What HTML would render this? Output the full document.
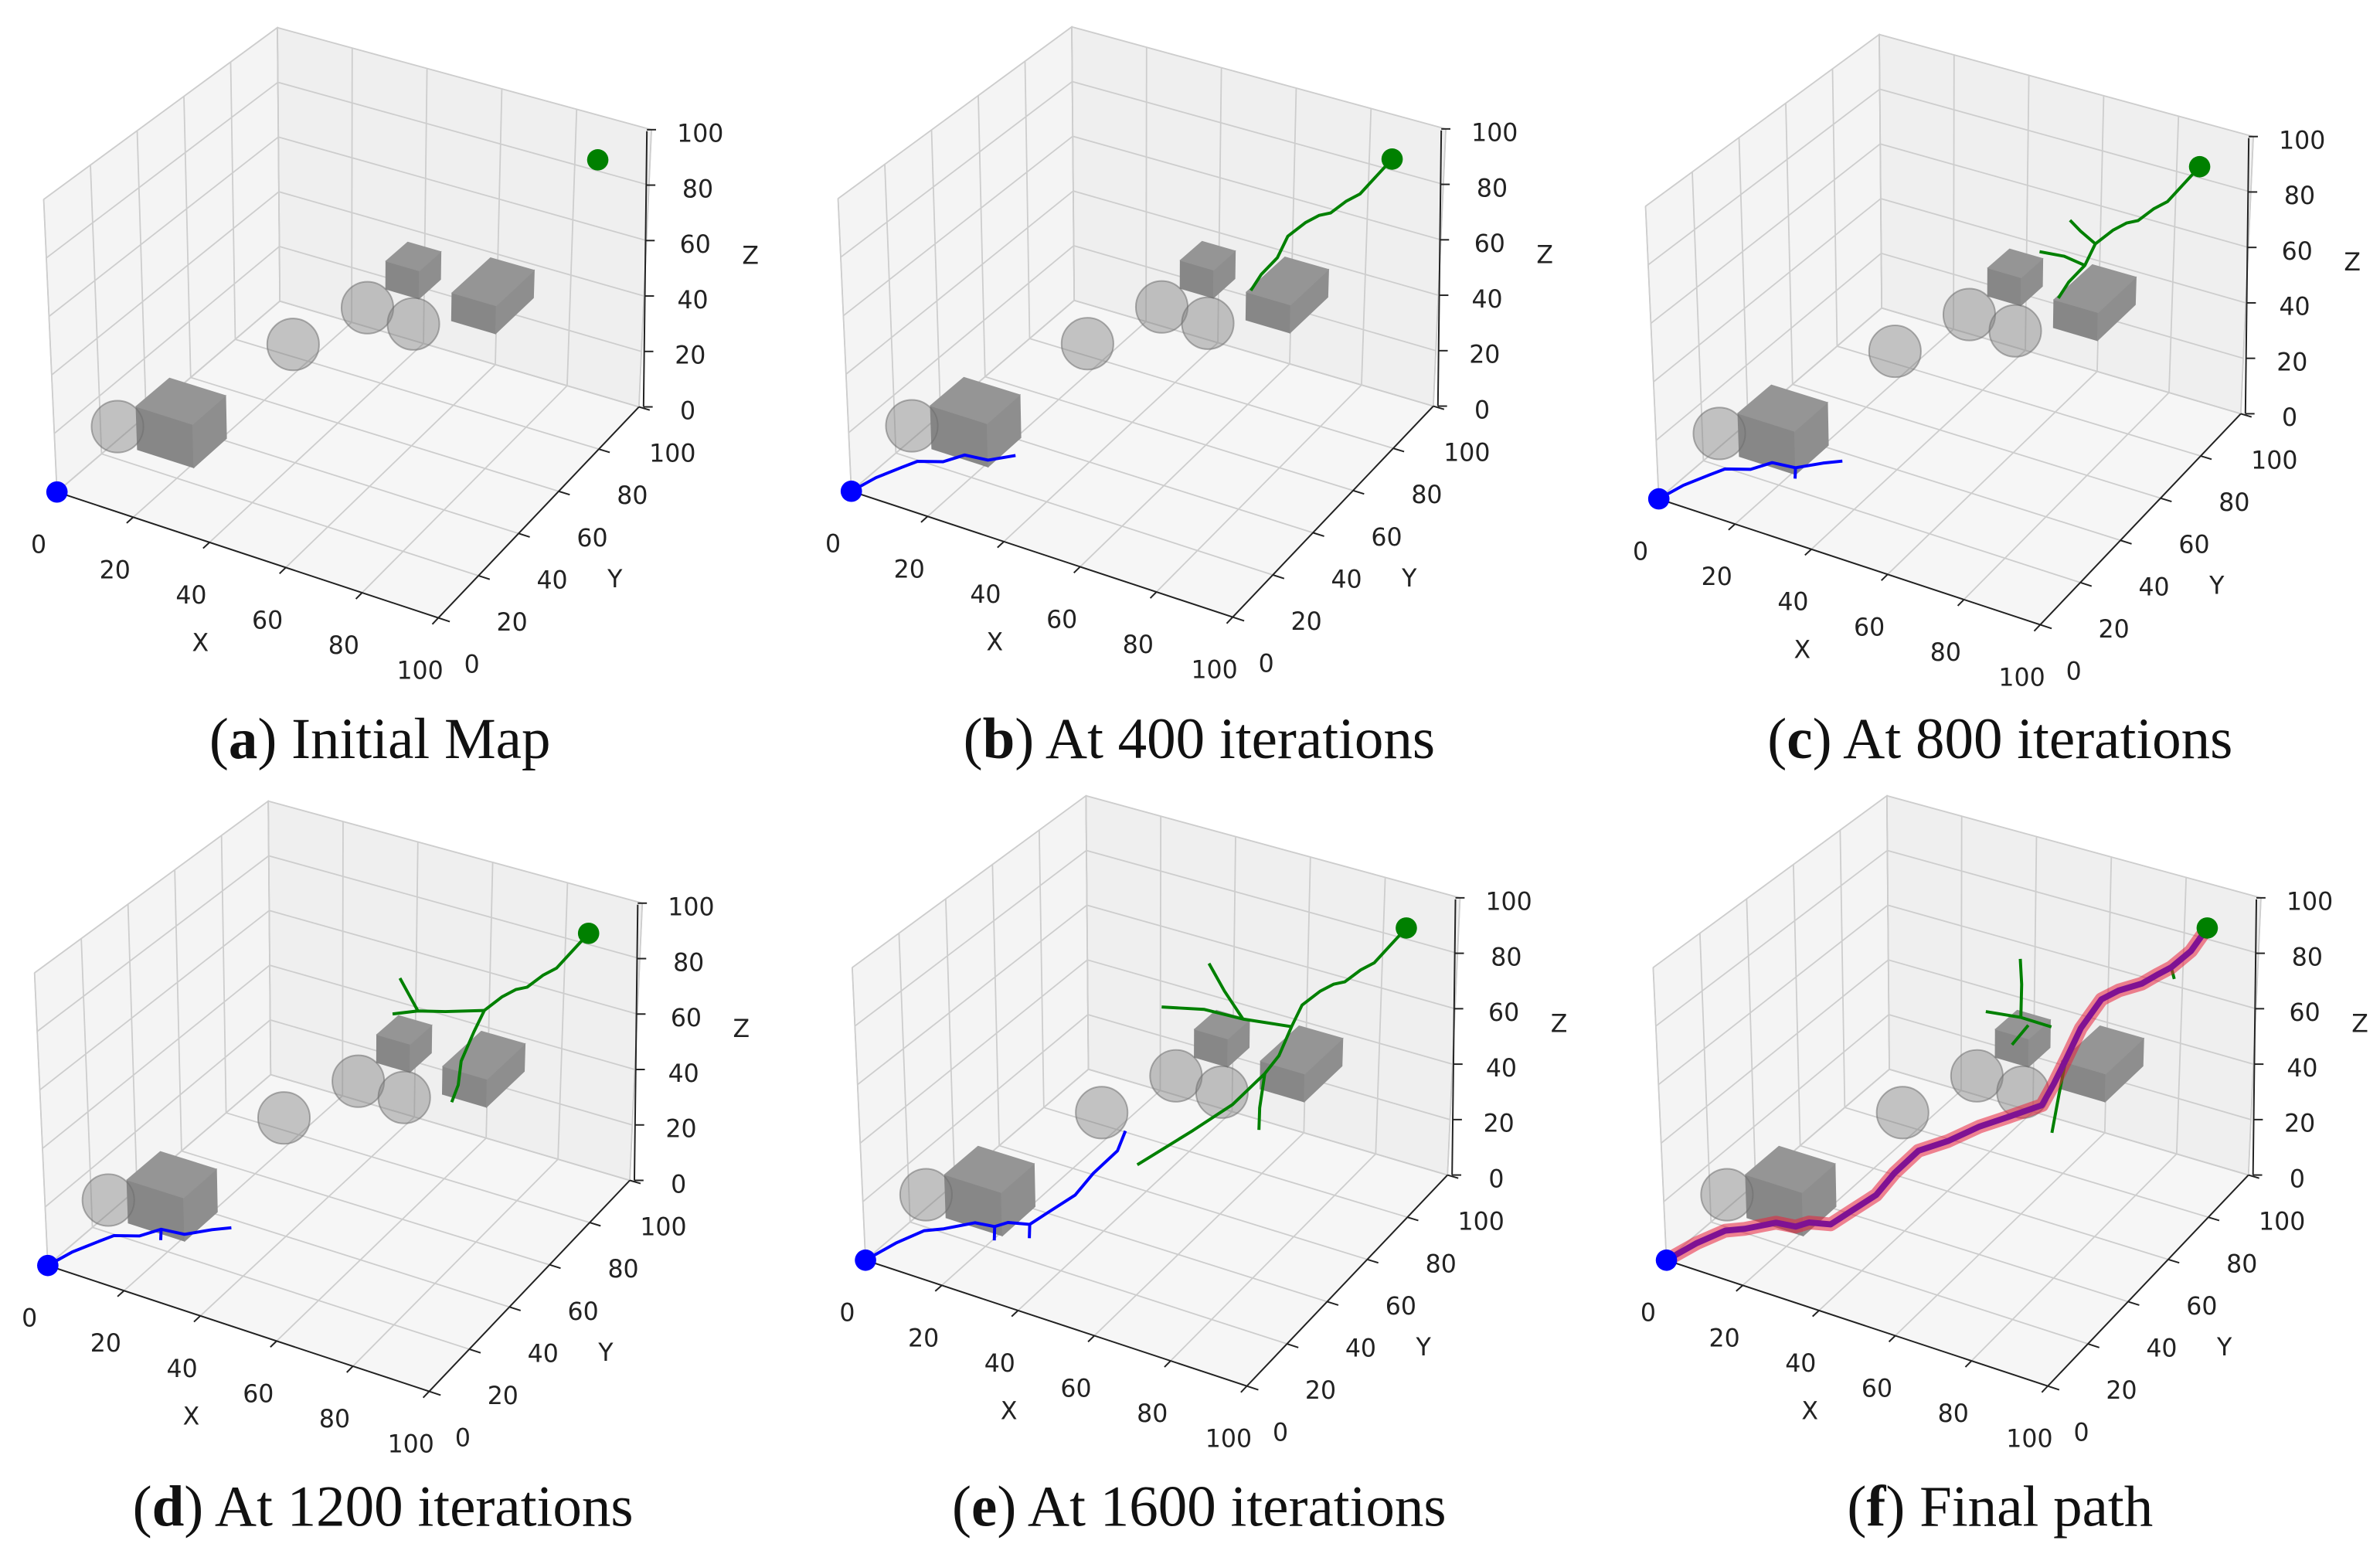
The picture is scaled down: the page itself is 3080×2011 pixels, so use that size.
<!DOCTYPE html>
<html><head><meta charset="utf-8">
<style>
html,body{margin:0;padding:0;background:#fff;}
svg{display:block;}
.tk{font-family:"DejaVu Sans","Liberation Sans",sans-serif;font-size:16px;fill:#222;}
.cap{font-family:"Liberation Serif",serif;font-size:38px;fill:#111;}
</style></head>
<body>
<svg id="fig" xmlns="http://www.w3.org/2000/svg" width="3080" height="2011" viewBox="0 0 1560 1018.6"></svg>
<script>
// ---- data ----
const ticks = [0, 20, 40, 60, 80, 100];
const tickLabels = ["0", "20", "40", "60", "80", "100"];
const startPt = [0, 0, 0];
const goalPt = [91, 91, 92];
const cubeMin = [[6, 26, 0], [43, 77, 37], [58, 82, 28]];
const cubeMax = [[21, 41, 15], [52, 87, 47], [70, 100, 38]];
const sphereCenters = [[7, 16, 15], [28, 60, 23], [41, 72, 33], [54, 71, 33]];
const sphereRadii = [10, 10, 10, 10];
const finalPath = [[0,0,0],[4,7,3],[8,13,5],[12,15,6],[18,19,8],[22,21,7],[25,22,9],[29,25,8],[32,29,11],[36,34,15],[38,39,20],[41,45,25],[46,50,27],[51,56,30],[56,61,32],[62,66,35],[64,68,42],[66,70,50],[67,75,58],[69,81,65],[73,82,69],[78,84,72],[81,86,75],[84,87,78],[88,89,84],[91,91,92]];
const blueB = [[[0,0,0],[3,6,2],[7,11,4],[10,13,6],[15,16,6],[19,19,8],[24,21,7],[29,25,8]]];
const greenB = [[[91,91,92],[88,89,86],[85,87,80],[82,86,77],[79,84,73],[76,84,71],[73,83,68],[70,80,64],[69,77,58],[67,73,54],[66,70,50]]];
const blueC = [[[0,0,0],[3,6,2],[7,11,4],[10,13,6],[15,16,6],[19,19,8],[24,21,7],[29,25,8],[33,27,9]],[[24,21,7],[25,19,5]]];
const greenC = [[[91,91,92],[88,89,86],[85,87,80],[82,86,77],[79,84,73],[76,84,71],[73,83,68],[70,80,64],[69,77,58],[67,73,54],[66,70,50]],[[69,77,58],[64,76,60],[58,75,60]],[[70,80,64],[66,80,67],[62,82,68]]];
const blueD = [[[0,0,0],[3,6,2],[7,11,4],[10,13,6],[15,16,6],[19,19,8],[24,21,7],[29,25,8],[33,27,9]],[[19,19,8],[20,17,6]]];
const greenD = [[[91,91,92],[88,89,86],[85,87,80],[82,86,77],[79,84,73],[76,84,71],[73,83,68],[70,80,64],[69,77,58],[68,73,50],[69,70,44],[69,67,40]],[[70,80,64],[63,74,65],[58,70,66],[53,67,65]],[[58,70,66],[55,71,70],[52,72,74]]];
const blueE = [[[0,0,0],[4,7,3],[8,13,5],[12,15,6],[18,19,8],[22,21,7],[25,22,9],[29,25,8],[32,29,11],[36,34,15],[38,39,20],[41,45,25],[42,47,31]],[[22,21,7],[23,19,4]],[[29,25,8],[30,23,5]]];
const greenE = [[[91,91,92],[88,89,86],[85,87,80],[82,86,77],[79,84,73],[76,84,71],[73,83,68],[70,80,64],[69,77,58],[68,73,50],[66,70,45],[62,62,38],[56,54,32],[48,42,25]],[[69,77,58],[60,70,62],[52,66,65],[43,62,65]],[[60,70,62],[55,70,70],[52,68,80]],[[66,70,45],[67,66,36],[68,64,30]]];
const blueF = [finalPath];
const greenF = [[[62,70,60],[55,68,62],[48,64,64]],[[55,68,62],[54,70,72],[53,71,80]],[[57,68,60],[55,64,55]],[[66,70,50],[66,67,40],[67,62,30]],[[84,87,78],[86,85,76]]];
const panelIds = ["a", "b", "c", "d", "e", "f"];
const panelCaptions = ["Initial Map", "At 400 iterations", "At 800 iterations", "At 1200 iterations", "At 1600 iterations", "Final path"];
const panelBlue = [[], blueB, blueC, blueD, blueE, blueF];
const panelGreen = [[], greenB, greenC, greenD, greenE, greenF];

// ---- layout (projection geometry) ----
const offsets = [[0,0],[520.7,-0.5],[1050,4.5],[-6,507],[530,503.5],[1055,503.5]];
const capPos = [[249,497],[786,497],[1311,497],[251,1000],[786,1000],[1311,1000]];
const O=[37.3,322.5], X1=[287.3,405], Y1=[183.4,197.4], XY=[418.8,266.7];
const VO=[-8.7,-191.8], VX=[0.9,-194.5], VY=[-1.6,-179.3], VXY=[8.2,-181.7];
function bil(a,b,c,d,u,v,i){return a[i]*(1-u)*(1-v)+b[i]*u*(1-v)+c[i]*(1-u)*v+d[i]*u*v;}
function proj(p,off){
  const u=p[0]/100,v=p[1]/100,w=p[2]/100;
  return [bil(O,X1,Y1,XY,u,v,0)+w*bil(VO,VX,VY,VXY,u,v,0)+off[0],
          bil(O,X1,Y1,XY,u,v,1)+w*bil(VO,VX,VY,VXY,u,v,1)+off[1]];
}
const NS="http://www.w3.org/2000/svg";
const svg=document.getElementById('fig');
function mk(tag,parent,attrs){const e=document.createElementNS(NS,tag);for(const k in attrs)e.setAttribute(k,attrs[k]);parent.appendChild(e);return e;}
function pts(arr,off){return arr.map(p=>proj(p,off).map(n=>n.toFixed(2)).join(',')).join(' ');}

for(let i=0;i<6;i++){
  const off=offsets[i];
  const g=mk('g',svg,{});
  
  
  const panes=[[[0,0,0],[0,100,0],[0,100,100],[0,0,100]],[[0,100,0],[100,100,0],[100,100,100],[0,100,100]],[[0,0,0],[100,0,0],[100,100,0],[0,100,0]]];
  const paneNames=['left-pane','back-pane','floor-pane'];
  const paneFill=['#f4f4f4','#efefef','#f6f6f6'];
  panes.forEach((pn,k)=>{
    const e=mk('polygon',g,{points:pts(pn,off),fill:paneFill[k],stroke:'#cfcfcf','stroke-width':0.8});
    
    
  });
  ticks.forEach(t=>{
    const lines=[[[t,0,0],[t,100,0]],[[0,t,0],[100,t,0]],[[0,t,0],[0,t,100]],[[0,0,t],[0,100,t]],[[t,100,0],[t,100,100]],[[0,100,t],[100,100,t]]];
    lines.forEach(l=>{
      const e=mk('polyline',g,{points:pts(l,off),fill:'none',stroke:'#cdcdcd','stroke-width':0.9});
      
      
    });
  });
  const ax=[[[0,0,0],[100,0,0]],[[100,0,0],[100,100,0]]];
  ['x-axis-line','y-axis-line'].forEach((nm,k)=>{
    const e=mk('polyline',g,{points:pts(ax[k],off),fill:'none',stroke:'#222','stroke-width':1});
    
    
  });
  const z0=proj([100,100,0],off), z1=proj([100,100,100],off);
  const zl=mk('line',g,{x1:z0[0]+3,y1:z0[1],x2:z1[0]-3,y2:z1[1]+1,stroke:'#222','stroke-width':1});
  
  
  ticks.forEach((t,k)=>{
    const a=proj([t,0,0],off),b=proj([t,-3,0],off);
    const tx=mk('line',g,{x1:a[0],y1:a[1],x2:b[0],y2:b[1],stroke:'#222','stroke-width':1});
    
    
    const lx=mk('text',g,{x:a[0]-12,y:a[1]+40,'text-anchor':'middle',class:'tk'});lx.textContent=tickLabels[k];
    
    
    const c=proj([100,t,0],off),d=proj([103,t,0],off);
    const ty=mk('line',g,{x1:c[0],y1:c[1],x2:d[0],y2:d[1],stroke:'#222','stroke-width':1});
    
    
    const ly=mk('text',g,{x:c[0]+22,y:c[1]+36,'text-anchor':'middle',class:'tk'});ly.textContent=tickLabels[k];
    
    
    const zz=proj([100,100,t],off);
    const zx=zz[0]+3-6*(t/100);
    const tz=mk('line',g,{x1:zx,y1:zz[1],x2:zx+6,y2:zz[1],stroke:'#222','stroke-width':1});
    
    
    const lz=mk('text',g,{x:zz[0]+32,y:zz[1]+8,'text-anchor':'middle',class:'tk'});lz.textContent=tickLabels[k];
    
    
  });
  const xa=proj([50,0,0],off), ya=proj([100,50,0],off), za=proj([100,100,50],off);
  const tX=mk('text',g,{x:xa[0]-31,y:xa[1]+63,'text-anchor':'middle',class:'tk'});tX.textContent='X';
  
  
  const tY=mk('text',g,{x:ya[0]+50,y:ya[1]+49,'text-anchor':'middle',class:'tk'});tY.textContent='Y';
  
  
  const tZ=mk('text',g,{x:za[0]+69,y:za[1]-3,'text-anchor':'middle',class:'tk'});tZ.textContent='Z';
  
  
  cubeMin.forEach((mn,k)=>{
    const mx=cubeMax[k];
    const top=[[mn[0],mn[1],mx[2]],[mx[0],mn[1],mx[2]],[mx[0],mx[1],mx[2]],[mn[0],mx[1],mx[2]]];
    const front=[[mn[0],mn[1],mn[2]],[mx[0],mn[1],mn[2]],[mx[0],mn[1],mx[2]],[mn[0],mn[1],mx[2]]];
    const right=[[mx[0],mn[1],mn[2]],[mx[0],mx[1],mn[2]],[mx[0],mx[1],mx[2]],[mx[0],mn[1],mx[2]]];
    [[front,'#878787'],[right,'#8e8e8e'],[top,'#959595']].forEach(f=>{
      const e=mk('polygon',g,{points:pts(f[0],off),fill:f[1],stroke:f[1],'stroke-width':0.5});
      
      
    });
  });
  sphereCenters.forEach((c,k)=>{
    const p=proj(c,off);
    const e=mk('circle',g,{cx:p[0],cy:p[1],r:sphereRadii[k]*1.7,fill:'rgba(130,130,130,0.45)',stroke:'rgba(110,110,110,0.55)','stroke-width':1});
    
    
  });
  panelGreen[i].forEach(br=>{
    const e=mk('polyline',g,{points:pts(br,off),fill:'none',stroke:'#008000','stroke-width':2,'stroke-linejoin':'round'});
    
    
  });
  panelBlue[i].forEach(br=>{
    const e=mk('polyline',g,{points:pts(br,off),fill:'none',stroke:'#0000ff','stroke-width':i===5?4:2,'stroke-linejoin':'round'});
    
    
  });
  if(i===5){
    const e=mk('polyline',g,{points:pts(finalPath,off),fill:'none',stroke:'#e8203a','stroke-opacity':0.55,'stroke-width':9,'stroke-linejoin':'round','stroke-linecap':'round'});
    
    
  }
  const sp=proj(startPt,off), gp=proj(goalPt,off);
  const s=mk('circle',g,{cx:sp[0],cy:sp[1],r:7,fill:'#0000ff'});
  
  
  const gg=mk('circle',g,{cx:gp[0],cy:gp[1],r:7,fill:'#008000'});
  
  
  const cp=mk('text',svg,{x:capPos[i][0],y:capPos[i][1],'text-anchor':'middle',class:'cap'});
  
  
  const t1=mk('tspan',cp,{});t1.textContent='(';
  const t2=mk('tspan',cp,{'font-weight':'bold'});t2.textContent=panelIds[i];
  const t3=mk('tspan',cp,{});t3.textContent=') '+panelCaptions[i];
}
</script>
</body></html>
